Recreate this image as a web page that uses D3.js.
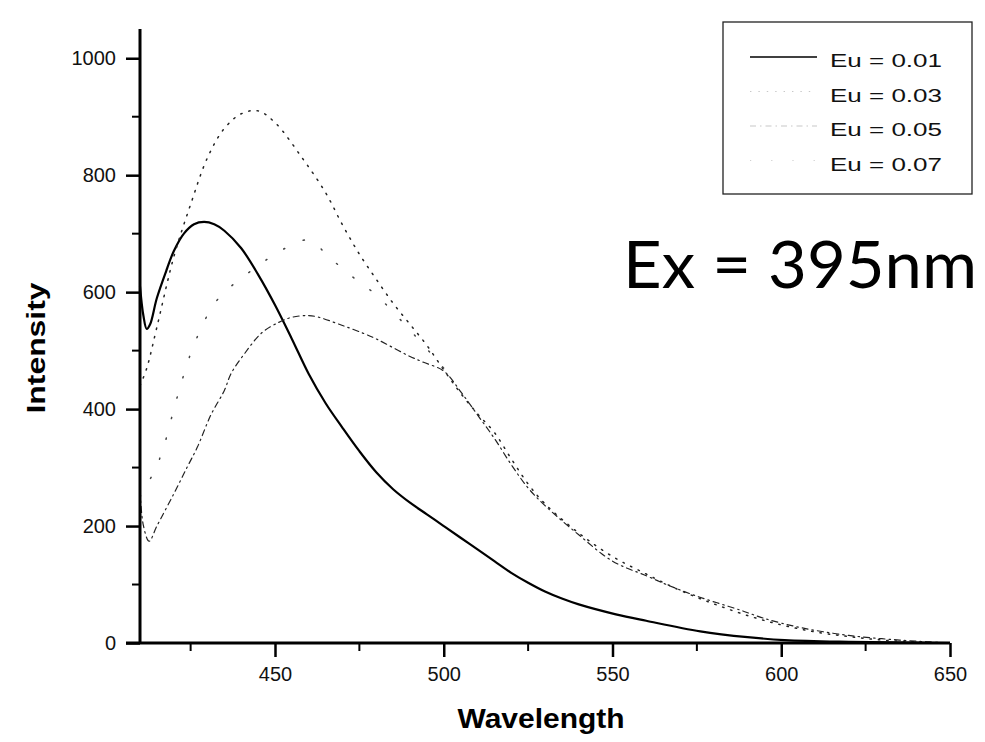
<!DOCTYPE html>
<html>
<head>
<meta charset="utf-8">
<script src="https://cdn.jsdelivr.net/npm/d3@7"></script>
<style>
  body { margin: 0; background: #fff; }
  svg { display: block; }
  .axis path, .axis line { stroke: #000; }
  .axis text { font-family: "Liberation Sans", Arial, sans-serif; font-size: 20px; fill: #111; }
</style>
</head>
<body>
<div id="chart"></div>
<script>
// values
var waveA = [410, 411, 412, 413, 415, 418, 420, 423, 426, 429, 432, 435, 440, 445, 450, 455, 460, 465, 470, 475, 480, 485, 490, 495, 500, 505, 510, 515, 520, 525, 530, 535, 540, 551, 560, 576, 590, 601, 620, 650];
var intA  = [610, 560, 537, 545, 590, 640, 670, 700, 716, 720, 716, 705, 675, 630, 578, 520, 460, 410, 368, 328, 292, 263, 240, 220, 200, 180, 160, 140, 120, 103, 88, 76, 66, 49, 38, 20, 10, 5, 2, 0];

var waveB = [410, 412, 415, 420, 425, 430, 435, 440, 445, 450, 458, 465, 470, 475, 480, 485, 490, 495, 500, 505, 510, 515, 520, 525, 530, 540, 550, 560, 570, 580, 590, 600, 610, 620, 630, 640, 650];
var intB  = [440, 470, 540, 660, 750, 830, 880, 905, 910, 890, 830, 770, 715, 665, 622, 581, 545, 509, 467, 427, 392, 360, 315, 272, 238, 188, 148, 118, 90, 67, 47, 31, 19, 11, 5, 2, 0];

var waveC = [410, 411, 412.7, 415, 420, 424, 427, 431, 435, 437, 441, 446, 451, 455, 460, 463, 470, 476, 480, 485, 490, 494, 500, 505, 510, 515, 520, 525, 530, 540, 550, 560, 566, 575, 588, 595, 606, 620, 635, 650];
var intC  = [260, 201, 174, 200, 255, 301, 335, 390, 432, 461, 495, 530, 548, 557, 560, 557, 543, 530, 520, 505, 490, 480, 465, 430, 390, 350, 305, 265, 235, 185, 140, 115, 100, 80, 56, 42, 26, 13, 5, 0];

var waveD = [410, 414.5, 417, 421, 426, 432, 437, 445, 452, 460, 466, 473, 480, 490, 500];
var intD  = [250, 297, 335, 420, 510, 580, 610, 645, 672, 689, 660, 626, 595, 535, 470];

var seriesNames = ["Eu = 0.01", "Eu = 0.03", "Eu = 0.05", "Eu = 0.07"];
var xTicks = [450, 500, 550, 600, 650];
var xMinor = [425, 475, 525, 575, 625];
var yTicks = [0, 200, 400, 600, 800, 1000];
var yMinor = [100, 300, 500, 700, 900];

var W = 985, H = 742;
var margin = {left: 140, top: 29, right: 35, bottom: 99};
var pw = W - margin.left - margin.right;
var ph = H - margin.top - margin.bottom;

var svg = d3.select("#chart").append("svg")
    .attr("width", W)
    .attr("height", H);

var g = svg.append("g")
    .attr("transform", "translate(" + margin.left + "," + margin.top + ")");

var xScale = d3.scaleLinear().domain([410, 650]).range([0, pw]);
var yScale = d3.scaleLinear().domain([0, 1050]).range([ph, 0]);

// series styles
var styles = [
    {w: waveA, v: intA, width: 2.2, dash: null, color: "#000"},
    {w: waveB, v: intB, width: 1.5, dash: "1.4,7", color: "#222"},
    {w: waveC, v: intC, width: 1.2, dash: "6,4,1.5,4", color: "#222"},
    {w: waveD, v: intD, width: 1.5, dash: "1.2,20", color: "#444"}
];

var line = d3.line()
    .x(function(d) { return xScale(d[0]); })
    .y(function(d) { return yScale(d[1]); })
    .curve(d3.curveCatmullRom.alpha(0.5));

styles.forEach(function(s) {
    var pts = s.w.map(function(x, i) { return [x, s.v[i]]; });
    g.append("path")
        .attr("d", line(pts))
        .attr("fill", "none")
        .attr("stroke", s.color)
        .attr("stroke-width", s.width)
        .attr("stroke-linecap", s.dash ? "round" : "butt")
        .attr("stroke-dasharray", s.dash);
});

// axes
var xAxis = d3.axisBottom(xScale).tickValues(xTicks).tickSize(14).tickPadding(10).tickFormat(d3.format("d"));
var yAxis = d3.axisLeft(yScale).tickValues(yTicks).tickSize(14).tickPadding(10).tickFormat(d3.format("d"));

var gx = g.append("g").attr("class", "axis")
    .attr("transform", "translate(0," + ph + ")")
    .call(xAxis);
gx.select(".domain").attr("stroke-width", 3).attr("d", "M-14,0H" + pw);
gx.selectAll(".tick line").attr("stroke-width", 2.5);

gx.selectAll(".minor").data(xMinor).enter().append("line")
    .attr("class", "minor")
    .attr("x1", function(d) { return xScale(d); })
    .attr("x2", function(d) { return xScale(d); })
    .attr("y1", 0).attr("y2", 8)
    .attr("stroke", "#000").attr("stroke-width", 2);

var gy = g.append("g").attr("class", "axis")
    .call(yAxis);
gy.select(".domain").attr("stroke-width", 3).attr("d", "M0," + ph + "V0");
gy.selectAll(".tick line").attr("stroke-width", 2.5);

gy.selectAll(".minor").data(yMinor).enter().append("line")
    .attr("class", "minor")
    .attr("x1", 0).attr("x2", -8)
    .attr("y1", function(d) { return yScale(d); })
    .attr("y2", function(d) { return yScale(d); })
    .attr("stroke", "#000").attr("stroke-width", 2);

// axis titles
svg.append("text")
    .attr("x", 541).attr("y", 728)
    .attr("text-anchor", "middle")
    .attr("font-family", "Liberation Sans, Arial, sans-serif")
    .attr("font-weight", "bold")
    .attr("font-size", 28)
    .attr("textLength", 167)
    .attr("lengthAdjust", "spacingAndGlyphs")
    .text("Wavelength");

svg.append("text")
    .attr("transform", "translate(45,348)rotate(-90)")
    .attr("text-anchor", "middle")
    .attr("font-family", "Liberation Sans, Arial, sans-serif")
    .attr("font-weight", "bold")
    .attr("font-size", 26)
    .attr("textLength", 131)
    .attr("lengthAdjust", "spacingAndGlyphs")
    .text("Intensity");

// legend
var legend = svg.append("g").attr("transform", "translate(723,22)");
legend.append("rect")
    .attr("width", 249).attr("height", 172)
    .attr("fill", "none").attr("stroke", "#222").attr("stroke-width", 1.3);

seriesNames.forEach(function(name, i) {
    var yy = 45 + i * 34.5;
    var s = styles[i];
    legend.append("line")
        .attr("x1", 27).attr("x2", 94)
        .attr("y1", yy - 10).attr("y2", yy - 10)
        .attr("stroke", s.color)
        .attr("stroke-width", i == 0 ? 1.3 : 1)
        .attr("stroke-opacity", i == 0 ? 1 : 0.25)
        .attr("stroke-dasharray", s.dash);
    legend.append("text")
        .attr("x", 107).attr("y", yy)
        .attr("font-family", "Liberation Sans, Arial, sans-serif")
        .attr("font-size", 19)
        .attr("textLength", 112)
        .attr("lengthAdjust", "spacingAndGlyphs")
        .attr("fill", "#111")
        .text(name);
});

// annotation
svg.append("text")
    .attr("x", 623).attr("y", 288)
    .attr("font-family", "Lato, 'Open Sans', sans-serif")
    .attr("font-size", 66)
    .attr("textLength", 354)
    .attr("lengthAdjust", "spacingAndGlyphs")
    .attr("fill", "#000")
    .text("Ex = 395nm");
</script>
</body>
</html>
